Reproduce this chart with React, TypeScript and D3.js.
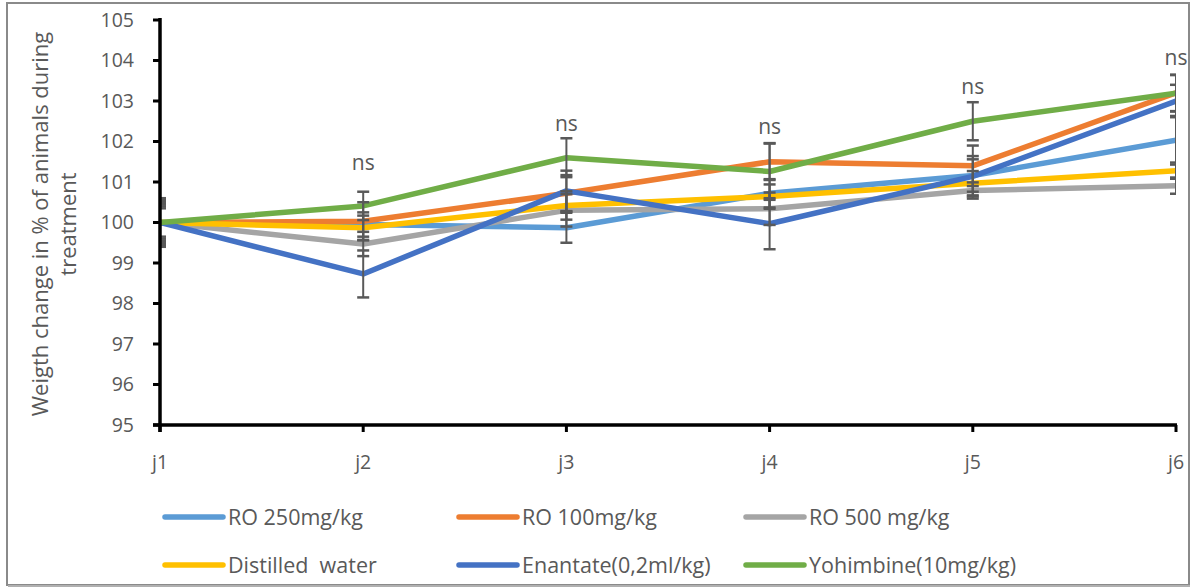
import React from "react";
import * as d3 from "d3";

const categories = ["j1", "j2", "j3", "j4", "j5", "j6"];
const yTicks = [95, 96, 97, 98, 99, 100, 101, 102, 103, 104, 105];

const seriesNames = [
  "RO 250mg/kg",
  "RO 100mg/kg",
  "RO 500 mg/kg",
  "Distilled  water",
  "Enantate(0,2ml/kg)",
  "Yohimbine(10mg/kg)",
];
const seriesColors = ["#5B9BD5", "#ED7D31", "#A5A5A5", "#FFC000", "#4472C4", "#70AD47"];

const ro250 = [100, 99.95, 99.87, 100.72, 101.16, 102.03];
const ro100 = [100, 100.03, 100.72, 101.5, 101.4, 103.2];
const ro500 = [100, 99.47, 100.3, 100.34, 100.79, 100.91];
const water = [100, 99.87, 100.42, 100.64, 100.97, 101.28];
const enantate = [100, 98.73, 100.78, 99.97, 101.14, 103.0];
const yohimbine = [100, 100.41, 101.6, 101.26, 102.5, 103.19];

const ro250Err = [0.45, 0.3, 0.37, 0.35, 0.4, 0.6];
const ro100Err = [0.5, 0.47, 0.45, 0.45, 0.5, 0.45];
const ro500Err = [0.55, 0.3, 0.4, 0.4, 0.2, 0.2];
const waterErr = [0.35, 0.3, 0.35, 0.3, 0.3, 0.2];
const enantateErr = [0.6, 0.58, 0.5, 0.63, 0.5, 0.4];
const yohimbineErr = [0.4, 0.35, 0.48, 0.7, 0.47, 0.45];

const nsLabels = ["", "ns", "ns", "ns", "ns", "ns"];
const nsY = [0, 101.47, 102.43, 102.36, 103.35, 104.07];

const seriesValues = [ro250, ro100, ro500, water, enantate, yohimbine];
const seriesErrs = [ro250Err, ro100Err, ro500Err, waterErr, enantateErr, yohimbineErr];

const W = 1193;
const H = 588;
const left = 160;
const right = 1176;
const top = 20;
const bottom = 425;
const FONT = "'Open Sans', 'Noto Sans', sans-serif";
const TXT = "#595959";

export default function App() {
  const x = d3.scalePoint<string>().domain(categories).range([left, right]);
  const y = d3.scaleLinear().domain([95, 105]).range([bottom, top]);
  const line = d3
    .line<number>()
    .x((_, i) => x(categories[i]) as number)
    .y((d) => y(d));

  const legendCols = [165, 459, 746];
  const legendRows = [517, 565];

  return (
    <svg
      width={W}
      height={H}
      style={{ position: "absolute", left: 0, top: 0, background: "#fff" }}
      fontFamily={FONT}
    >
      <defs>
        <clipPath id="plotclip">
          <rect x={left} y={0} width={right - left} height={bottom + 2} />
        </clipPath>
      </defs>
      <rect x={0} y={0} width={W} height={H} fill="#fff" />
      <rect x={7} y={3} width={1182} height={582} fill="none" stroke="#8a8a8a" strokeWidth={2} />
      <line x1={8} x2={1190} y1={586} y2={586} stroke="#b0b0b0" strokeWidth={2} />

      {/* y axis title */}
      <g transform={`translate(40, 224) rotate(-90)`}>
        <text textAnchor="middle" fontSize={22} fill={TXT} dy="0.35em">
          Weigth change in % of animals during
        </text>
        <text textAnchor="middle" fontSize={22} fill={TXT} dy="0.35em" y={28}>
          treatment
        </text>
      </g>

      {/* y ticks */}
      {yTicks.map((t) => (
        <g key={t}>
          <line x1={left - 7} x2={left} y1={y(t)} y2={y(t)} stroke="#000" strokeWidth={3} />
          <text x={134} y={y(t)} dy="0.35em" textAnchor="end" fontSize={19.5} fill={TXT}>
            {t}
          </text>
        </g>
      ))}

      {/* x ticks */}
      {categories.map((c) => (
        <g key={c}>
          <line x1={x(c)} x2={x(c)} y1={bottom} y2={bottom + 7} stroke="#000" strokeWidth={3} />
          <text x={x(c)} y={462} dy="0.35em" textAnchor="middle" fontSize={19.5} fill={TXT}>
            {c}
          </text>
        </g>
      ))}

      {/* lines */}
      <g clipPath="url(#plotclip)">
        {seriesValues.map((vals, si) => (
          <path
            key={si}
            d={line(vals) || ""}
            fill="none"
            stroke={seriesColors[si]}
            strokeWidth={5.5}
            strokeLinejoin="round"
            strokeLinecap="round"
          />
        ))}
        {seriesValues.map((vals, si) =>
          vals.map((v, i) => {
            const cx = x(categories[i]) as number;
            const e = seriesErrs[si][i];
            const y1 = y(v + e);
            const y2 = y(v - e);
            return (
              <g key={`${si}-${i}`} stroke="#595959" strokeWidth={2}>
                <line x1={cx} x2={cx} y1={y1} y2={y2} />
                <line x1={cx - 6} x2={cx + 6} y1={y1} y2={y1} strokeWidth={2.5} />
                <line x1={cx - 6} x2={cx + 6} y1={y2} y2={y2} strokeWidth={2.5} />
              </g>
            );
          })
        )}
      </g>

      {/* axes lines */}
      <line x1={left} x2={left} y1={top - 2} y2={bottom + 7} stroke="#000" strokeWidth={3.5} />
      <line x1={left - 7} x2={right + 1} y1={bottom} y2={bottom} stroke="#000" strokeWidth={3.5} />

      {/* ns labels */}
      {nsLabels.map((s, i) =>
        s ? (
          <text
            key={i}
            x={x(categories[i])}
            y={y(nsY[i])}
            dy="0.35em"
            textAnchor="middle"
            fontSize={21}
            fill={TXT}
          >
            {s}
          </text>
        ) : null
      )}

      {/* legend */}
      {seriesNames.map((name, i) => {
        const col = i % 3;
        const row = Math.floor(i / 3);
        const lx = legendCols[col];
        const ly = legendRows[row];
        return (
          <g key={name}>
            <line
              x1={lx}
              x2={lx + 58}
              y1={ly}
              y2={ly}
              stroke={seriesColors[i]}
              strokeWidth={5.5}
              strokeLinecap="round"
            />
            <text
              x={lx + 63}
              y={ly}
              dy="0.35em"
              fontSize={21.5}
              fill={TXT}
              style={{ whiteSpace: "pre" }}
            >
              {name}
            </text>
          </g>
        );
      })}
    </svg>
  );
}
